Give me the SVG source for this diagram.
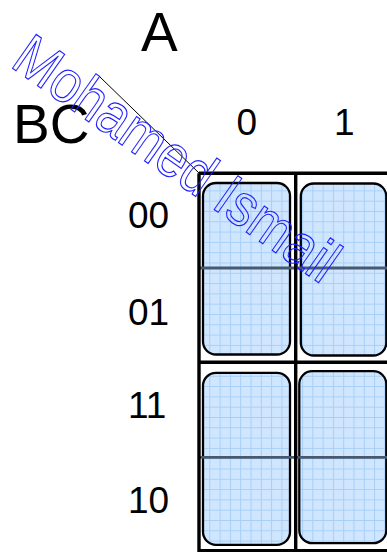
<svg xmlns="http://www.w3.org/2000/svg" width="387" height="552" viewBox="0 0 387 552">
  <style>
    .lbl { font-family: "Liberation Sans", Arial, sans-serif; fill: #000; }
    .big { font-size: 55px; }
    .dig { font-size: 37px; }
    .cell { fill: url(#grid); stroke: #000; stroke-width: 2.3; }
    .thick { stroke: #000; stroke-width: 3.4; fill: none; }
    .mid { stroke: #46596f; stroke-width: 2.8; fill: none; }
    .wm { font-family: "Liberation Sans", Arial, sans-serif; font-size: 60px; fill: none; stroke: #1f1fff; stroke-width: 1.2; }
  </style>
  <defs>
    <pattern id="grid" patternUnits="userSpaceOnUse" x="3.3" y="5" width="10.3" height="10.3">
      <rect width="10.3" height="10.3" fill="#d0e6fe"/>
      <path d="M0 0.5 H10.3 M0.5 0 V10.3" stroke="#a6cff8" stroke-width="1" fill="none"/>
    </pattern>
  </defs>
  <rect width="387" height="552" fill="#fff"/>

  <g id="labels">
    <text class="lbl big" x="141" y="51">A</text>
    <text class="lbl big" x="13" y="143">BC</text>
    <text class="lbl dig" x="236.5" y="135">0</text>
    <text class="lbl dig" x="334" y="135">1</text>
    <text class="lbl dig" x="128" y="228">00</text>
    <text class="lbl dig" x="128" y="325">01</text>
    <text class="lbl dig" x="128" y="418">11</text>
    <text class="lbl dig" x="128" y="513">10</text>
  </g>

  <g id="cell-r1c1"><rect class="cell" x="203" y="183" width="87" height="171.5" rx="13"/></g>
  <g id="cell-r1c2"><rect class="cell" x="300.8" y="183.5" width="85.5" height="172" rx="13"/></g>
  <g id="cell-r2c1"><rect class="cell" x="203" y="372.8" width="87" height="172" rx="13"/></g>
  <g id="cell-r2c2"><rect class="cell" x="299.3" y="371.2" width="87" height="172" rx="13"/></g>

  <g id="connectors">
    <line x1="100" y1="77" x2="199" y2="173" stroke="#000" stroke-width="1"/>
    <path class="mid" d="M199 268 H387 M199 457.3 H387"/>
    <path class="thick" d="M199 173.3 H387 M199 173.3 V552 M295.7 173.3 V552 M199 362.3 H387 M199 550.8 H387"/>
  </g>

  <g id="watermark">
    <text class="wm" transform="translate(8.9 65.8) rotate(35) scale(0.867 1)">Mohamed Ismail</text>
  </g>
</svg>
